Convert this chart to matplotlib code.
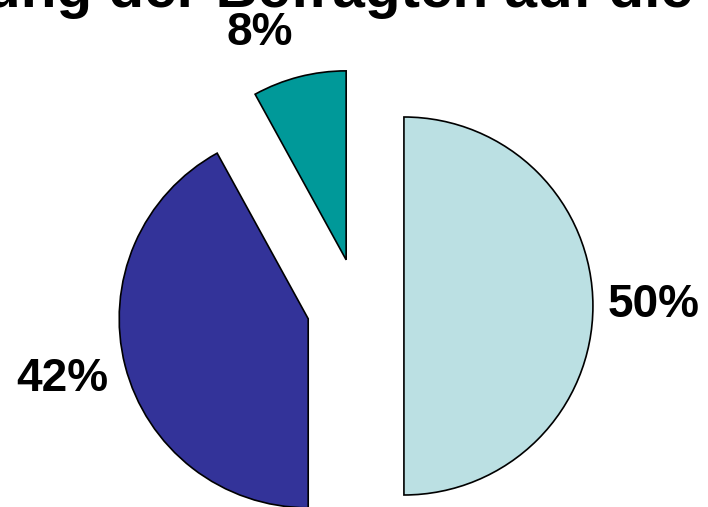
import matplotlib.pyplot as plt

# share of respondents per answer (percent)
values = [50, 42, 8]
colors = ['#BBE0E3', '#333399', '#009999']
explode = [0.243, 0.272, 0.252]
label_pos = [(654, 305), (62, 379), (260, 33)]  # label centres in pixels
title = "ung der Befragten auf die"

W, H, R = 708, 507, 189.0

plt.rcParams['font.family'] = ['Liberation Sans', 'DejaVu Sans']

fig = plt.figure(figsize=(W / 100, H / 100), dpi=100)
ax = fig.add_axes([0, 0, 1, 1])

ax.pie(values, colors=colors, explode=explode, startangle=90, counterclock=False,
       radius=1, center=(358 / R, (H - 306) / R),
       wedgeprops=dict(edgecolor='black', linewidth=1.2))
ax.set_xlim(0, W / R)
ax.set_ylim(0, H / R)
ax.set_aspect('equal')
ax.axis('off')

for v, (x, y) in zip(values, label_pos):
    fig.text(x / W, 1 - y / H, "{}%".format(v), ha='center', va='center',
             fontsize=33, fontweight='bold')

# title is cut off by the top edge in the original
fig.text(-15 / W, 1 - 7 / H, title, ha='left', va='baseline',
         fontsize=42, fontweight='bold')

fig.savefig("out.png", dpi=100)
